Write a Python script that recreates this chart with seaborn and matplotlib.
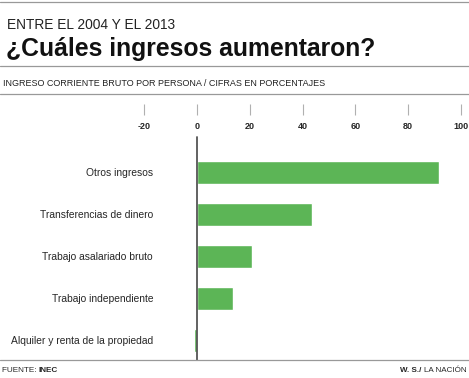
import pandas as pd
import matplotlib.pyplot as plt
import seaborn as sns

# datos (porcentaje de aumento 2004-2013)
categorias = ['Otros ingresos', 'Transferencias de dinero', 'Trabajo asalariado bruto',
              'Trabajo independiente', 'Alquiler y renta de la propiedad']
aumento = [91.8, 43.6, 20.8, 13.6, -1.3]
ticks_x = [-20, 0, 20, 40, 60, 80, 100]

sns.set_style('white')
plt.rcParams['font.family'] = ['Liberation Sans', 'DejaVu Sans']

df = pd.DataFrame({'categoria': categorias, 'aumento': aumento})

W, H = 469, 378
fig = plt.figure(figsize=(W / 100, H / 100), dpi=100)

# ejes: izquierda 133.6px, derecha 466.3px, arriba 104px, abajo 360px
ax = fig.add_axes([133.6 / W, 1 - 360 / H, (466.3 - 133.6) / W, (360 - 104) / H])

sns.barplot(data=df, x='aumento', y='categoria', color='#5cb556', width=0.55,
            saturation=1, ax=ax, orient='h')

ax.set_xlim(-24, 102)
ax.set_ylim(4.476, -1.631)
for s in ax.spines.values():
    s.set_visible(False)

ax.xaxis.tick_top()
ax.set_xticks(ticks_x)
ax.set_xticklabels([str(t) for t in ticks_x], fontweight='bold', fontsize=6.5)
ax.tick_params(axis='x', direction='in', length=8, width=0.8, color='#b0b0b0',
               pad=-19.5, top=True, bottom=False)
ax.tick_params(axis='y', length=0, pad=-14, labelsize=7.4)
ax.set_xlabel('')
ax.set_ylabel('')

# linea del cero
ax.axvline(0, ymin=0, ymax=(360 - 137) / 256, color='#555555', lw=1.3)

# lineas horizontales y textos
def hline(y, color='#999999', lw=0.9):
    fig.add_artist(plt.Line2D([0, 1], [1 - y / H, 1 - y / H], color=color, lw=lw,
                              transform=fig.transFigure))

hline(1.5)
hline(66)
hline(94)
hline(359.5)

fig.text(7 / W, 1 - 25 / H, 'ENTRE EL 2004 Y EL 2013', fontsize=9.9,
         va='center', ha='left', color='#222222')
fig.text(6 / W, 1 - 49 / H, '¿Cuáles ingresos aumentaron?', fontsize=17.8,
         fontweight='bold', va='center', ha='left', color='#111111')
fig.text(3 / W, 1 - 83 / H, 'INGRESO CORRIENTE BRUTO POR PERSONA / CIFRAS EN PORCENTAJES',
         fontsize=6.5, va='center', ha='left', color='#222222')

fig.text(2 / W, 1 - 370 / H, 'FUENTE: ', fontsize=5.9, va='center', ha='left')
fig.text(38 / W, 1 - 370 / H, 'INEC', fontsize=5.9, fontweight='bold', va='center', ha='left')
t_nacion = fig.text(467 / W, 1 - 370 / H, 'LA NACIÓN', fontsize=5.8, va='center', ha='right')

# colocar "W. S./" justo a la izquierda de "LA NACIÓN"
renderer = fig.canvas.get_renderer()
x0 = t_nacion.get_window_extent(renderer).x0
fig.text((x0 - 3) / W, 1 - 370 / H, 'W. S./', fontsize=5.8, fontweight='bold',
         va='center', ha='right')

fig.savefig('out.png', dpi=100)
